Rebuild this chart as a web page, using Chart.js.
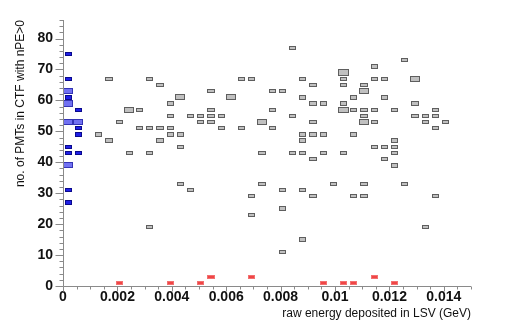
<!DOCTYPE html>
<html>
<head>
<meta charset="utf-8">
<script src="https://cdn.jsdelivr.net/npm/chart.js@4"></script>
<style>
  html, body { margin: 0; padding: 0; background: #fff; }
</style>
</head>
<body>
<canvas id="hist" width="506" height="323"></canvas>
<script>
// binning of the 2D histogram
const binW = 0.000375;   // GeV
const binH = 2;          // PMTs
const zMax = 2;          // largest cell content

const xTickVals = [0, 0.002, 0.004, 0.006, 0.008, 0.010, 0.012, 0.014];
const xTickLabels = ['0', '0.002', '0.004', '0.006', '0.008', '0.01', '0.012', '0.014'];
const yTickVals = [0, 10, 20, 30, 40, 50, 60, 70, 80];
const yTickLabels = ['0', '10', '20', '30', '40', '50', '60', '70', '80'];

// gray: all events (bin centre x, bin centre y, entries)
const grayX = [
  0.008438,
  0.012563,
  0.011438,
  0.010313,
  0.001688, 0.003188, 0.006563, 0.006938, 0.008813, 0.010313, 0.011438, 0.011813, 0.012938,
  0.003563, 0.009188, 0.010313, 0.011063,
  0.005438, 0.007688, 0.008063, 0.011063,
  0.004313, 0.006188, 0.008813, 0.010688, 0.011813,
  0.003938, 0.009188, 0.009563, 0.010313, 0.012938,
  0.002438, 0.002813, 0.005438, 0.007688, 0.010313, 0.010688, 0.011063, 0.011438, 0.012188, 0.013688,
  0.003938, 0.004688, 0.005063, 0.005438, 0.005813, 0.008438, 0.011063, 0.012938, 0.013313, 0.013688,
  0.002063, 0.005063, 0.005438, 0.007313, 0.009188, 0.011063, 0.011438, 0.013313, 0.014063,
  0.002813, 0.003188, 0.003563, 0.003938, 0.005813, 0.006563, 0.007688, 0.013688,
  0.001313, 0.003938, 0.004313, 0.008813, 0.009188, 0.009563, 0.010688,
  0.001688, 0.003563, 0.008813, 0.012188,
  0.004313, 0.011438, 0.011813, 0.012188,
  0.002438, 0.003188, 0.007313, 0.008438, 0.008813, 0.009563, 0.010313, 0.012188,
  0.009188, 0.011813,
  0.012188,
  0.004313, 0.007313, 0.009938, 0.011063, 0.012563,
  0.004688, 0.008063, 0.008813,
  0.006938, 0.009188, 0.010688, 0.011063, 0.013688,
  0.008063,
  0.006938,
  0.003188, 0.013313,
  0.008813,
  0.008063
];
const grayY = [
  77,
  73,
  71,
  69,
  67, 67, 67, 67, 67, 67, 67, 67, 67,
  65, 65, 65, 65,
  63, 63, 63, 63,
  61, 61, 61, 61, 61,
  59, 59, 59, 59, 59,
  57, 57, 57, 57, 57, 57, 57, 57, 57, 57,
  55, 55, 55, 55, 55, 55, 55, 55, 55, 55,
  53, 53, 53, 53, 53, 53, 53, 53, 53,
  51, 51, 51, 51, 51, 51, 51, 51,
  49, 49, 49, 49, 49, 49, 49,
  47, 47, 47, 47,
  45, 45, 45, 45,
  43, 43, 43, 43, 43, 43, 43, 43,
  41, 41,
  39,
  33, 33, 33, 33, 33,
  31, 31, 31,
  29, 29, 29, 29, 29,
  25,
  23,
  19, 19,
  15,
  11
];
const grayN = [
  1,
  1,
  1,
  2,
  1, 1, 1, 1, 1, 1, 1, 1, 2,
  1, 1, 1, 1,
  1, 1, 1, 2,
  2, 2, 1, 1, 1,
  1, 1, 1, 1, 1,
  2, 1, 1, 1, 2, 1, 1, 1, 1, 1,
  1, 1, 1, 1, 1, 1, 1, 1, 1, 1,
  1, 1, 1, 2, 1, 2, 1, 1, 1,
  1, 1, 1, 1, 1, 1, 1, 1,
  1, 1, 1, 1, 1, 1, 1,
  1, 1, 1, 1,
  1, 1, 1, 1,
  1, 1, 1, 1, 1, 1, 1, 1,
  1, 1,
  1,
  1, 1, 1, 1, 1,
  1, 1, 1,
  1, 1, 1, 1, 1,
  1,
  1,
  1, 1,
  1,
  1
];

// blue: lowest energy bins
const blueX = [
  0.000188, 0.000188, 0.000188, 0.000188, 0.000188, 0.000188,
  0.000188, 0.000188, 0.000188, 0.000188, 0.000188,
  0.000563, 0.000563, 0.000563, 0.000563, 0.000563
];
const blueY = [75, 67, 63, 61, 59, 53, 45, 43, 39, 31, 27, 57, 53, 51, 49, 43];
const blueN = [1, 1, 2, 1, 2, 2, 1, 1, 2, 1, 1, 1, 2, 1, 1, 1];

// red: no PMTs
const redX = [0.002063, 0.003938, 0.005063, 0.005438, 0.006938, 0.009563, 0.010313, 0.010688, 0.011438, 0.012188];
const redY = [1, 1, 1, 3, 3, 1, 1, 1, 3, 1];
const redN = [1, 1, 1, 1, 1, 1, 1, 1, 1, 1];

function cells(xs, ys, ns) {
  return xs.map((x, k) => ({ x: x, y: ys[k], n: ns[k] }));
}

const axisColor = '#8a8a8a';

// boxes sized by sqrt(content / max), like ROOT's BOX option
const boxPlugin = {
  id: 'boxes',
  afterDatasetsDraw(chart) {
    const { ctx, scales: { x, y } } = chart;
    ctx.save();
    ctx.lineWidth = 1;
    chart.data.datasets.forEach(ds => {
      ds.data.forEach(p => {
        const f = Math.sqrt(p.n / zMax);
        const x0 = Math.round(x.getPixelForValue(p.x - f * binW / 2));
        const x1 = Math.round(x.getPixelForValue(p.x + f * binW / 2));
        const y0 = Math.round(y.getPixelForValue(p.y + f * binH / 2));
        const y1 = Math.round(y.getPixelForValue(p.y - f * binH / 2));
        const big = p.n >= zMax;
        ctx.fillStyle = big ? ds.boxFillBig : ds.boxFill;
        ctx.fillRect(x0, y0, x1 - x0, y1 - y0);
        ctx.strokeStyle = big ? ds.boxLineBig : ds.boxLine;
        ctx.strokeRect(x0 + 0.5, y0 + 0.5, x1 - x0 - 1, y1 - y0 - 1);
      });
    });
    ctx.restore();
  }
};

// ROOT style frame: axis lines with major and minor ticks pointing out
const framePlugin = {
  id: 'frame',
  afterDraw(chart) {
    const { ctx, chartArea: a, scales: { x, y } } = chart;
    ctx.save();
    ctx.strokeStyle = axisColor;
    ctx.lineWidth = 1;
    ctx.beginPath();
    const ax = Math.round(a.left) + 0.5;
    const ay = Math.round(a.bottom) + 0.5;
    ctx.moveTo(ax, Math.round(a.top));
    ctx.lineTo(ax, ay);
    ctx.lineTo(Math.round(a.right), ay);
    for (let k = 0; k <= 43; k++) {
      const py = Math.round(y.getPixelForValue(k * 2)) + 0.5;
      const len = (k % 5 === 0) ? 8 : 4;
      ctx.moveTo(ax - len, py);
      ctx.lineTo(ax, py);
    }
    for (let k = 0; k <= 30; k++) {
      const px = Math.round(x.getPixelForValue(k * 0.0005)) + 0.5;
      const len = (k % 4 === 0) ? 5 : 3;
      ctx.moveTo(px, ay);
      ctx.lineTo(px, ay + len);
    }
    ctx.stroke();
    ctx.restore();
  }
};

const tickFont = { family: 'Liberation Sans, Arial, sans-serif', size: 14, weight: 'bold' };
const titleFont = { family: 'Liberation Sans, Arial, sans-serif', size: 12, weight: 'normal' };

new Chart(document.getElementById('hist'), {
  type: 'scatter',
  data: {
    datasets: [
      { label: 'all', data: cells(grayX, grayY, grayN), pointRadius: 0,
        boxFill: '#c0c0c0', boxLine: '#5e5e5e', boxFillBig: '#c0c0c0', boxLineBig: '#5e5e5e' },
      { label: 'low energy', data: cells(blueX, blueY, blueN), pointRadius: 0,
        boxFill: '#1f1fe6', boxLine: '#0a0a8c', boxFillBig: '#7272f2', boxLineBig: '#3434b4' },
      { label: 'no PMTs', data: cells(redX, redY, redN), pointRadius: 0,
        boxFill: '#f04545', boxLine: '#f27070', boxFillBig: '#f04545', boxLineBig: '#f27070' }
    ]
  },
  options: {
    responsive: false,
    animation: false,
    layout: { padding: { top: 20, right: 35, left: 0, bottom: 0 } },
    plugins: { legend: { display: false }, tooltip: { enabled: false } },
    scales: {
      x: {
        type: 'linear', min: 0, max: 0.015,
        grid: { display: false, drawTicks: false },
        border: { display: false },
        afterBuildTicks: s => { s.ticks = xTickVals.map(v => ({ value: v })); },
        afterFit: s => { s.height = 37; },
        ticks: {
          autoSkip: false, maxRotation: 0, padding: 3, color: '#111', font: tickFont,
          callback: (v, i) => xTickLabels[i]
        },
        title: {
          display: true, text: 'raw energy deposited in LSV (GeV)', align: 'end',
          color: '#111', font: titleFont, padding: { top: 0, bottom: 2 }
        }
      },
      y: {
        type: 'linear', min: 0, max: 86,
        grid: { display: false, drawTicks: false },
        border: { display: false },
        afterBuildTicks: s => { s.ticks = yTickVals.map(v => ({ value: v })); },
        afterFit: s => { s.width = 63; },
        ticks: {
          autoSkip: false, padding: 10, color: '#111', font: tickFont,
          callback: (v, i) => yTickLabels[i]
        },
        title: {
          display: true, text: 'no. of PMTs in CTF with nPE>0', align: 'end',
          color: '#111', font: titleFont, padding: { top: 13, bottom: 0 }
        }
      }
    }
  },
  plugins: [boxPlugin, framePlugin]
});
</script>
</body>
</html>
